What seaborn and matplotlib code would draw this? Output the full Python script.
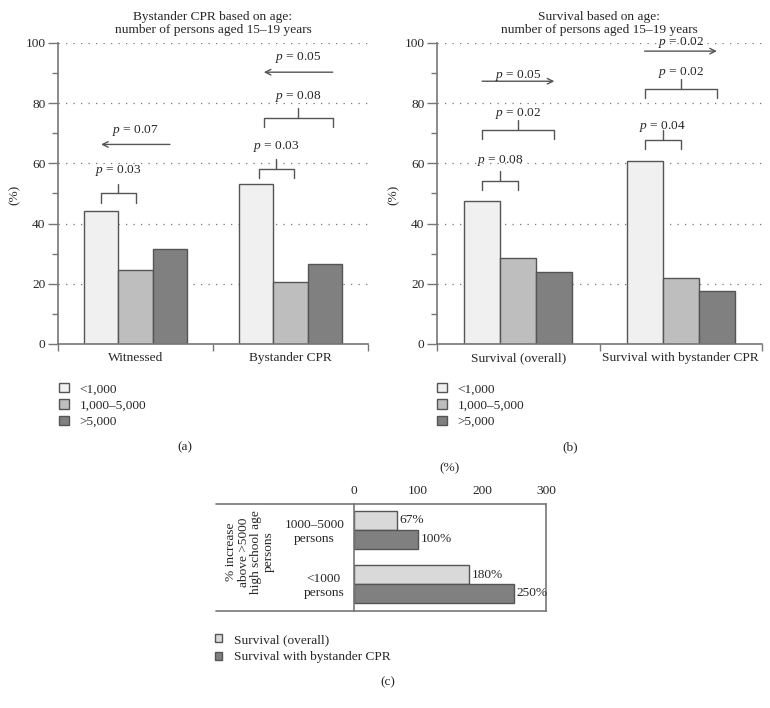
import matplotlib
matplotlib.use("Agg")
import matplotlib.pyplot as plt
from matplotlib.lines import Line2D
from matplotlib.ticker import MultipleLocator
import seaborn as sns
import pandas as pd

# ---------------- data ----------------
size_groups = ["<1,000", "1,000\u20135,000", ">5,000"]
cats_a = ["Witnessed", "Bystander CPR"]
vals_a = {"<1,000": [44.2, 53.0], "1,000\u20135,000": [24.5, 20.5], ">5,000": [31.5, 26.5]}
cats_b = ["Survival (overall)", "Survival with bystander CPR"]
vals_b = {"<1,000": [47.5, 60.8], "1,000\u20135,000": [28.5, 21.8], ">5,000": [24.0, 17.5]}

cats_c = ["1000\u20135000\npersons", "<1000\npersons"]
series_c = ["Survival (overall)", "Survival with bystander CPR"]
vals_c = {"Survival (overall)": [67, 180], "Survival with bystander CPR": [100, 250]}

# annotations: (category index, bar i, bar j, bracket height, text height, label, x shift)
brackets_a = [(0, 0, 1, 50.0, 57.7, "0.03", 0.0),
              (1, 0, 1, 58.3, 65.7, "0.03", 0.02),
              (1, 0, 2, 75.0, 82.3, "0.08", 0.05)]
arrows_a = [(0, 2, 0, 66.3, 71.0, "0.07", 0.0),
            (1, 2, 0, 90.3, 95.3, "0.05", 0.05)]
brackets_b = [(0, 0, 1, 54.3, 61.0, "0.08", 0.0),
              (0, 0, 2, 71.0, 76.5, "0.02", 0.0),
              (1, 0, 1, 67.7, 72.3, "0.04", 0.0),
              (1, 0, 2, 84.7, 90.3, "0.02", 0.0)]
arrows_b = [(0, 0, 2, 87.3, 89.3, "0.05", 0.0),
            (1, 0, 2, 97.3, 100.0, "0.02", 0.0)]

# ---------------- style ----------------
sns.set_style("ticks")
plt.rcParams["font.family"] = ["Liberation Serif", "DejaVu Serif"]
plt.rcParams["mathtext.fontset"] = "custom"
plt.rcParams["mathtext.rm"] = "Liberation Serif"
plt.rcParams["mathtext.it"] = "Liberation Serif:italic"
FS = 9.6
SPINE = "#777777"
LINE = "#555555"
EDGE = "#555555"
pal_abc = ["#f0f0f0", "#bebebe", "#808080"]
pal_c = ["#d9d9d9", "#808080"]

fig = plt.figure(figsize=(7.7, 7.08), dpi=100)
W, H = 770, 708

def fax(l, t, r, b):
    return fig.add_axes([l / W, 1 - b / H, (r - l) / W, (b - t) / H])

ax_a = fax(58, 43, 368, 344)
ax_b = fax(437, 43, 762, 344)
ax_c = fax(354, 504, 546, 611)


def long_df(cats, vals):
    rows = []
    for g in size_groups:
        for c, v in zip(cats, vals[g]):
            rows.append({"cat": c, "group": g, "value": v})
    return pd.DataFrame(rows)


def bar_center(ax, k, i):
    p = ax.containers[i].patches[k]
    return p.get_x() + p.get_width() / 2


def draw_panel(ax, cats, vals, title, brackets, arrows, legend_x):
    df = long_df(cats, vals)
    sns.barplot(data=df, x="cat", y="value", hue="group", order=cats,
                hue_order=size_groups, palette=pal_abc, width=0.667,
                saturation=1, edgecolor=EDGE, linewidth=1, ax=ax)
    ax.set_xlim(-0.5, 1.5)
    ax.set_ylim(0, 100)
    ax.set_xlabel("")
    ax.set_ylabel("")
    ax.yaxis.set_major_locator(MultipleLocator(20))
    ax.yaxis.set_minor_locator(MultipleLocator(10))
    ax.set_xticks([-0.5, 0.5, 1.5], ["", "", ""])
    ax.set_xticks([0, 1], cats, minor=True)
    ax.tick_params(axis="x", which="minor", length=0, pad=6, labelsize=FS)
    ax.tick_params(axis="x", which="major", length=5, width=1, color=SPINE)
    ax.tick_params(axis="y", which="major", length=7, width=1, color=SPINE,
                   labelsize=FS, pad=2)
    ax.tick_params(axis="y", which="minor", length=4, width=1, color=SPINE)
    for s in ["top", "right"]:
        ax.spines[s].set_visible(False)
    for s in ["left", "bottom"]:
        ax.spines[s].set_color(SPINE)
        ax.spines[s].set_linewidth(1.2)
    ax.yaxis.grid(True, which="major", linestyle=(0, (1, 5)), color="#777777", lw=0.9)
    ax.set_axisbelow(True)
    ax.set_title(title, fontsize=FS, pad=7, linespacing=1.15)

    for k, i, j, yb, yt, lab, dx in brackets:
        x1 = bar_center(ax, k, i) + dx
        x2 = bar_center(ax, k, j) + dx
        xm = (x1 + x2) / 2
        ax.plot([x1, x1, x2, x2], [yb - 3, yb, yb, yb - 3], color=LINE, lw=1)
        ax.plot([xm, xm], [yb, yb + 3.3], color=LINE, lw=1)
        ax.text(xm, yt, f"$p$ = {lab}", ha="center", va="center", fontsize=FS)
    for k, i, j, ya, yt, lab, dx in arrows:
        x1 = bar_center(ax, k, i) + dx
        x2 = bar_center(ax, k, j) + dx
        ax.annotate("", xy=(x2, ya), xytext=(x1, ya),
                    arrowprops=dict(arrowstyle="->", color=LINE, lw=1,
                                    shrinkA=0, shrinkB=0, mutation_scale=10))
        ax.text((x1 + x2) / 2, yt, f"$p$ = {lab}", ha="center", va="center", fontsize=FS)

    sns.move_legend(ax, loc="upper left", bbox_to_anchor=(legend_x / W, 1 - 383 / H),
                    bbox_transform=fig.transFigure, title=None, frameon=False,
                    fontsize=FS, handlelength=0.75, handleheight=0.7,
                    handletextpad=0.8, labelspacing=0.3, borderpad=0,
                    borderaxespad=0)


draw_panel(ax_a, cats_a, vals_a,
           "Bystander CPR based on age:\nnumber of persons aged 15\u201319 years",
           brackets_a, arrows_a, 59)
draw_panel(ax_b, cats_b, vals_b,
           "Survival based on age:\nnumber of persons aged 15\u201319 years",
           brackets_b, arrows_b, 437)

fig.text(15 / W, 1 - 195 / H, "(%)", rotation=90, ha="center", va="center", fontsize=FS)
fig.text(394 / W, 1 - 195 / H, "(%)", rotation=90, ha="center", va="center", fontsize=FS)
fig.text(185 / W, 1 - 447 / H, "(a)", ha="center", va="center", fontsize=FS)
fig.text(570 / W, 1 - 447 / H, "(b)", ha="center", va="center", fontsize=FS)

# ---------------- panel c ----------------
rows = []
for s in series_c:
    for c, v in zip(cats_c, vals_c[s]):
        rows.append({"cat": c, "series": s, "value": v})
dfc = pd.DataFrame(rows)
sns.barplot(data=dfc, x="value", y="cat", hue="series", order=cats_c,
            hue_order=series_c, palette=pal_c, orient="h", width=0.7,
            saturation=1, edgecolor=EDGE, linewidth=1, ax=ax_c)
ax_c.set_xlim(0, 300)
ax_c.set_ylim(1.5, -0.48)
ax_c.xaxis.tick_top()
ax_c.xaxis.set_label_position("top")
ax_c.set_xticks([0, 100, 200, 300])
ax_c.set_xlabel("(%)", fontsize=FS, labelpad=10)
ax_c.set_ylabel("")
ax_c.tick_params(axis="x", length=0, pad=5, labelsize=FS)
ax_c.tick_params(axis="y", length=0, pad=7, labelsize=FS)
for lab in ax_c.get_yticklabels():
    lab.set_multialignment("center")
for s in ax_c.spines.values():
    s.set_color(SPINE)
    s.set_linewidth(1.2)
for cont in ax_c.containers:
    ax_c.bar_label(cont, fmt="%g%%", padding=2, fontsize=FS)

for yy in (504, 611):
    fig.add_artist(Line2D([216 / W, 354 / W], [1 - yy / H, 1 - yy / H],
                          color=SPINE, lw=1.2, transform=fig.transFigure))
fig.text(250 / W, 1 - 552 / H, "% increase\nabove >5000\nhigh school age\npersons",
         rotation=90, ha="center", va="center", multialignment="center",
         fontsize=FS, linespacing=1.05)

sns.move_legend(ax_c, loc="upper left", bbox_to_anchor=(215 / W, 1 - 634 / H),
                bbox_transform=fig.transFigure, title=None, frameon=False,
                fontsize=FS, handlelength=0.55, handleheight=0.55,
                handletextpad=0.9, labelspacing=0.4, borderpad=0, borderaxespad=0)
fig.text(388 / W, 1 - 682 / H, "(c)", ha="center", va="center", fontsize=FS)

fig.savefig("out.png", dpi=100)
